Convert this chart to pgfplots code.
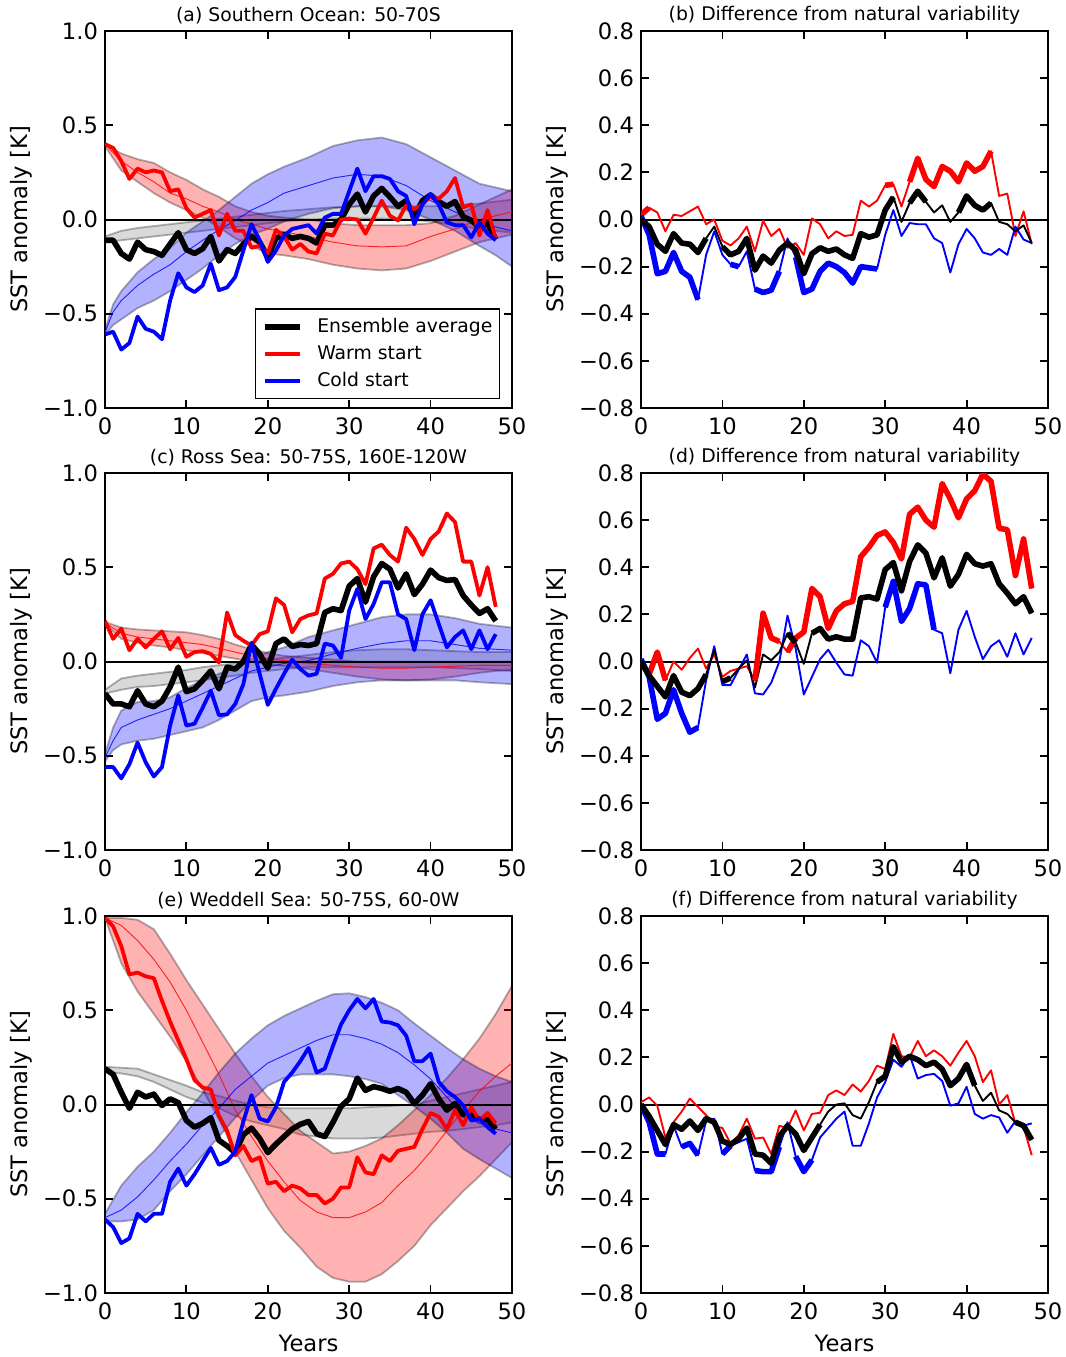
\documentclass[border=0pt]{standalone}
\usepackage{fontspec}
\setmainfont{DejaVu Sans}
\usepackage{pgfplots}
\usepackage{pgfplotstable}
\pgfplotsset{compat=1.18}

% ---------------- line data (x, ensemble average k, warm start r, cold start b)
\pgfplotstableread{
x k r b
0 -0.11 0.40 -0.61
1 -0.11 0.38 -0.595
2 -0.18 0.31 -0.69
3 -0.21 0.215 -0.655
4 -0.12 0.27 -0.515
5 -0.16 0.25 -0.58
6 -0.17 0.26 -0.595
7 -0.19 0.25 -0.635
8 -0.13 0.15 -0.43
9 -0.07 0.16 -0.285
10 -0.16 0.06 -0.36
11 -0.18 0.01 -0.385
12 -0.155 0.03 -0.35
13 -0.09 0.05 -0.235
14 -0.22 -0.085 -0.375
15 -0.16 0.03 -0.36
16 -0.18 -0.06 -0.305
17 -0.13 -0.06 -0.165
18 -0.09 -0.15 -0.025
19 -0.12 -0.14 -0.11
20 -0.20 -0.18 -0.225
21 -0.10 -0.055 -0.165
22 -0.08 -0.09 -0.085
23 -0.10 -0.16 -0.05
24 -0.09 -0.13 -0.04
25 -0.10 -0.17 -0.03
26 -0.125 -0.18 -0.075
27 -0.03 -0.075 0.01
28 -0.03 -0.085 0.03
29 0.0 0.0 0.03
30 0.08 0.005 0.15
31 0.135 0.0 0.27
32 0.04 -0.075 0.15
33 0.125 0.01 0.23
34 0.165 0.10 0.23
35 0.12 0.02 0.215
36 0.07 -0.005 0.15
37 0.10 0.075 0.125
38 0.015 0.055 -0.025
39 0.10 0.08 0.08
40 0.13 0.125 0.135
41 0.095 0.11 0.08
42 0.07 0.15 -0.015
43 0.095 0.22 -0.03
44 0.015 0.065 -0.03
45 -0.005 0.08 -0.095
46 -0.04 -0.085 -0.015
47 -0.02 0.05 -0.075
48 -0.105 -0.10 -0.11
}\dataA

\pgfplotstableread{
x k r b
0 0.0 0.02 0.015
1 -0.03 0.05 -0.065
2 -0.105 0.03 -0.23
3 -0.135 -0.05 -0.22
4 -0.06 0.02 -0.14
5 -0.10 0.015 -0.22
6 -0.105 0.035 -0.245
7 -0.14 0.055 -0.34
8 -0.08 -0.02 -0.15
9 -0.03 0.0 -0.05
10 -0.115 -0.09 -0.15
11 -0.15 -0.11 -0.19
12 -0.135 -0.08 -0.20
13 -0.08 -0.03 -0.135
14 -0.215 -0.135 -0.295
15 -0.155 -0.005 -0.31
16 -0.185 -0.07 -0.30
17 -0.13 -0.04 -0.22
18 -0.10 -0.12 -0.08
19 -0.13 -0.10 -0.16
20 -0.23 -0.15 -0.31
21 -0.145 0.005 -0.295
22 -0.12 -0.02 -0.22
23 -0.135 -0.08 -0.185
24 -0.125 -0.05 -0.20
25 -0.15 -0.07 -0.225
26 -0.165 -0.065 -0.27
27 -0.06 0.08 -0.20
28 -0.075 0.055 -0.205
29 -0.065 0.08 -0.21
30 0.04 0.145 -0.065
31 0.095 0.15 0.04
32 -0.01 0.055 -0.07
33 0.07 0.16 -0.015
34 0.12 0.26 -0.02
35 0.075 0.17 -0.02
36 0.03 0.14 -0.08
37 0.06 0.225 -0.10
38 -0.01 0.205 -0.225
39 0.03 0.16 -0.105
40 0.10 0.24 -0.04
41 0.06 0.205 -0.08
42 0.04 0.225 -0.14
43 0.07 0.29 -0.15
44 -0.01 0.10 -0.125
45 -0.02 0.11 -0.15
46 -0.05 -0.07 -0.03
47 -0.025 0.035 -0.085
48 -0.10 -0.105 -0.10
}\dataB

\pgfplotstableread{
x k r b
0 -0.17 0.215 -0.56
1 -0.225 0.12 -0.56
2 -0.225 0.175 -0.62
3 -0.24 0.06 -0.545
4 -0.155 0.12 -0.43
5 -0.225 0.075 -0.535
6 -0.24 0.12 -0.61
7 -0.21 0.16 -0.56
8 -0.135 0.065 -0.34
9 -0.03 0.125 -0.18
10 -0.16 0.025 -0.34
11 -0.145 0.05 -0.33
12 -0.10 0.055 -0.245
13 -0.05 0.04 -0.155
14 -0.145 -0.005 -0.285
15 -0.03 0.26 -0.28
16 -0.04 0.14 -0.225
17 0.0 0.11 -0.12
18 0.09 0.085 0.10
19 0.04 0.145 -0.065
20 -0.035 0.16 -0.23
21 0.095 0.335 -0.145
22 0.12 0.30 -0.065
23 0.08 0.155 0.01
24 0.09 0.225 -0.04
25 0.085 0.245 -0.075
26 0.095 0.255 -0.065
27 0.26 0.44 0.095
28 0.28 0.465 0.085
29 0.27 0.52 0.02
30 0.40 0.53 0.27
31 0.44 0.49 0.385
32 0.315 0.41 0.225
33 0.45 0.60 0.305
34 0.52 0.62 0.42
35 0.49 0.565 0.42
36 0.39 0.53 0.25
37 0.465 0.71 0.225
38 0.355 0.65 0.06
39 0.41 0.565 0.25
40 0.485 0.65 0.325
41 0.445 0.69 0.20
42 0.43 0.785 0.075
43 0.435 0.74 0.13
44 0.35 0.53 0.165
45 0.30 0.53 0.065
46 0.255 0.35 0.165
47 0.28 0.50 0.065
48 0.215 0.29 0.145
}\dataC

\pgfplotstableread{
x k r b
0 0.0 -0.005 0.01
1 -0.06 -0.055 -0.065
2 -0.105 0.04 -0.245
3 -0.15 -0.08 -0.22
4 -0.06 0.0 -0.12
5 -0.13 -0.035 -0.22
6 -0.145 0.015 -0.30
7 -0.115 0.055 -0.28
8 -0.055 -0.03 -0.08
9 0.05 0.03 0.065
10 -0.085 -0.065 -0.10
11 -0.07 -0.04 -0.10
12 -0.03 -0.03 -0.035
13 0.005 -0.02 0.03
14 -0.11 -0.08 -0.135
15 0.03 0.205 -0.14
16 0.005 0.10 -0.09
17 0.04 0.085 0.0
18 0.12 0.04 0.195
19 0.08 0.10 0.055
20 -0.01 0.125 -0.14
21 0.12 0.31 -0.065
22 0.14 0.275 0.01
23 0.095 0.14 0.05
24 0.105 0.215 -0.005
25 0.095 0.245 -0.055
26 0.095 0.255 -0.06
27 0.27 0.445 0.09
28 0.275 0.485 0.065
29 0.265 0.535 -0.005
30 0.39 0.55 0.23
31 0.42 0.505 0.34
32 0.30 0.435 0.17
33 0.425 0.625 0.225
34 0.495 0.655 0.33
35 0.46 0.60 0.325
36 0.355 0.57 0.135
37 0.44 0.755 0.12
38 0.32 0.69 -0.05
39 0.37 0.61 0.135
40 0.455 0.69 0.215
41 0.415 0.725 0.105
42 0.405 0.795 0.01
43 0.415 0.765 0.065
44 0.33 0.565 0.09
45 0.29 0.56 0.02
46 0.245 0.365 0.12
47 0.275 0.52 0.03
48 0.205 0.31 0.10
}\dataD

\pgfplotstableread{
x k r b
0 0.19 0.99 -0.61
1 0.16 0.945 -0.65
2 0.065 0.84 -0.735
3 -0.02 0.69 -0.71
4 0.065 0.70 -0.58
5 0.04 0.68 -0.62
6 0.055 0.67 -0.58
7 -0.005 0.55 -0.58
8 0.03 0.44 -0.41
9 0.01 0.34 -0.34
10 -0.085 0.24 -0.43
11 -0.12 0.13 -0.37
12 -0.10 0.09 -0.30
13 -0.07 0.08 -0.23
14 -0.19 -0.06 -0.32
15 -0.22 -0.14 -0.30
16 -0.255 -0.27 -0.25
17 -0.16 -0.22 -0.09
18 -0.125 -0.30 0.05
19 -0.18 -0.28 -0.075
20 -0.255 -0.42 -0.09
21 -0.21 -0.41 -0.015
22 -0.17 -0.46 0.12
23 -0.13 -0.43 0.17
24 -0.105 -0.445 0.23
25 -0.09 -0.48 0.30
26 -0.155 -0.48 0.17
27 -0.17 -0.525 0.19
28 -0.095 -0.50 0.31
29 -0.01 -0.44 0.425
30 0.03 -0.44 0.50
31 0.14 -0.28 0.56
32 0.075 -0.36 0.51
33 0.095 -0.37 0.56
34 0.085 -0.27 0.44
35 0.07 -0.30 0.435
36 0.085 -0.245 0.42
37 0.065 -0.235 0.365
38 0.005 -0.225 0.23
39 0.05 -0.13 0.23
40 0.11 -0.045 0.27
41 0.03 -0.065 0.12
42 -0.03 -0.13 0.07
43 0.005 -0.03 0.04
44 -0.055 -0.11 -0.005
45 -0.05 -0.015 -0.085
46 -0.08 -0.085 -0.075
47 -0.08 -0.045 -0.12
48 -0.13 -0.10 -0.155
}\dataE

\pgfplotstableread{
x k r b
0 0.0 0.01 0.0
1 -0.05 0.03 -0.075
2 -0.11 -0.005 -0.21
3 -0.17 -0.14 -0.21
4 -0.085 -0.075 -0.09
5 -0.105 -0.03 -0.18
6 -0.07 0.025 -0.165
7 -0.11 -0.01 -0.215
8 -0.06 -0.045 -0.07
9 -0.075 -0.09 -0.06
10 -0.155 -0.10 -0.21
11 -0.17 -0.165 -0.175
12 -0.145 -0.13 -0.16
13 -0.10 -0.06 -0.145
14 -0.21 -0.145 -0.28
15 -0.215 -0.14 -0.285
16 -0.25 -0.21 -0.285
17 -0.135 -0.09 -0.18
18 -0.09 -0.10 -0.075
19 -0.125 -0.025 -0.22
20 -0.195 -0.11 -0.285
21 -0.14 -0.04 -0.235
22 -0.085 -0.035 -0.14
23 -0.03 0.04 -0.10
24 0.0 0.06 -0.06
25 0.005 0.04 -0.03
26 -0.045 0.085 -0.175
27 -0.06 0.055 -0.175
28 0.01 0.10 -0.08
29 0.095 0.165 0.03
30 0.12 0.15 0.095
31 0.245 0.30 0.19
32 0.18 0.205 0.16
33 0.205 0.20 0.21
34 0.19 0.27 0.11
35 0.165 0.205 0.125
36 0.18 0.23 0.13
37 0.15 0.205 0.10
38 0.08 0.165 -0.005
39 0.11 0.22 0.005
40 0.17 0.27 0.075
41 0.08 0.205 -0.04
42 0.015 0.095 -0.06
43 0.05 0.145 -0.045
44 -0.025 0.0 -0.055
45 -0.04 0.04 -0.12
46 -0.075 -0.08 -0.07
47 -0.09 -0.095 -0.09
48 -0.15 -0.215 -0.08
}\dataF

\pgfplotsset{
  panel/.style={
    scale only axis, width=203.5pt, height=188.5pt,
    anchor=north west,
    xmin=0, xmax=50,
    xtick={0,10,20,30,40,50}, xticklabels={0,10,20,30,40,50},
    tick align=inside, major tick length=3.8pt,
    every tick/.style={black, line width=0.9pt},
    axis line style={black, line width=0.9pt},
    tick label style={font=\fontsize{11.3}{13}\selectfont},
    xticklabel style={yshift=-1.5pt},
    label style={font=\fontsize{11.3}{13}\selectfont},
    every axis title shift=0pt,
    title style={font=\fontsize{9.4}{11}\selectfont, at={(axis description cs:0.5,1.042)}, anchor=center},
    ylabel={SST anomaly [K]},
    ylabel style={at={(axis description cs:-0.2064,0.5)}, anchor=center},
  },
  leftp/.style={panel, ymin=-1, ymax=1,
    ytick={-1,-0.5,0,0.5,1}, yticklabels={−1.0,−0.5,0.0,0.5,1.0}},
  rightp/.style={panel, ymin=-0.8, ymax=0.8,
    ytick={-0.8,-0.6,-0.4,-0.2,0,0.2,0.4,0.6,0.8},
    yticklabels={−0.8,−0.6,−0.4,−0.2,0.0,0.2,0.4,0.6,0.8}},
  band/.style={fill=#1, fill opacity=0.3, draw=black, draw opacity=0.3, line width=0.9pt, forget plot},
  bmid/.style={#1, line width=0.47pt, opacity=0.8, forget plot},
}

\newcommand{\zeroline}{\addplot[black, line width=1pt, forget plot] coordinates {(0,0) (50,0)};}
\newcommand{\seg}[5]{\addplot[#1, line width=2.8pt, line join=round, restrict x to domain=#3:#4, forget plot] table[x=x,y=#5]{#2};}
\newcommand{\thinl}[3]{\addplot[#1, line width=0.94pt, line join=round, forget plot] table[x=x,y=#3]{#2};}
\newcommand{\mainl}[4]{\addplot[#1, line width=#4, line join=round, forget plot] table[x=x,y=#3]{#2};}

\begin{document}
\begin{tikzpicture}
\path[use as bounding box] (-52.5pt,15.5pt) rectangle (480.5pt,-663pt);

% (a)
\begin{axis}[leftp, at={(0pt,0pt)}, title={(a) Southern Ocean: 50-70S},
  legend cell align=left,
  legend image code/.code={\path (-1.5pt,0pt); \draw[#1] (0pt,0pt) -- (17.5pt,0pt);},
  legend style={at={(0.9705,0.024)}, anchor=south east,
    font=\fontsize{9.4}{11}\selectfont, draw=black, line width=0.6pt,
    inner xsep=2pt, inner ysep=2.5pt, row sep=1pt, column sep=5.5pt,
    nodes={inner xsep=1.5pt}}]
\addlegendimage{black, line width=2.8pt}\addlegendentry{Ensemble average}
\addlegendimage{red, line width=1.9pt}\addlegendentry{Warm start}
\addlegendimage{blue, line width=1.9pt}\addlegendentry{Cold start}
\addplot[band=gray] coordinates {(0,-0.09)(2,-0.06)(4,-0.045)(6,-0.035)(8,-0.025)(10,-0.015)(12,-0.005)(14,0.005)(16,0.015)(18,0.025)(20,0.035)(22,0.045)(25,0.055)(28,0.065)(31,0.07)(34,0.07)(37,0.07)(40,0.07)(43,0.075)(46,0.085)(48,0.095)(50,0.105)
 (50,-0.07)(48,-0.06)(46,-0.05)(43,-0.03)(40,-0.01)(37,0)(34,0.005)(31,0.005)(28,0.005)(25,0)(22,-0.01)(20,-0.02)(18,-0.03)(16,-0.04)(14,-0.05)(12,-0.06)(10,-0.07)(8,-0.08)(6,-0.09)(4,-0.1)(2,-0.11)(0,-0.12)};
\addplot[band=red] coordinates {(0,0.40)(2,0.35)(4,0.32)(6,0.30)(8,0.25)(10,0.21)(12,0.16)(14,0.12)(16,0.07)(18,0.04)(20,0.02)(22,0.01)(25,0)(28,-0.02)(31,-0.03)(34,-0.03)(37,-0.03)(40,-0.02)(43,0.02)(46,0.08)(48,0.12)(50,0.16)
 (50,-0.08)(48,-0.10)(46,-0.12)(43,-0.17)(40,-0.22)(37,-0.26)(34,-0.27)(31,-0.26)(28,-0.24)(25,-0.21)(22,-0.19)(20,-0.18)(18,-0.14)(16,-0.10)(14,-0.04)(12,0.01)(10,0.05)(8,0.09)(6,0.14)(4,0.20)(2,0.26)(0,0.39)};
\addplot[band=blue] coordinates {(0,-0.585)(1,-0.45)(2,-0.38)(4,-0.28)(6,-0.21)(8,-0.15)(10,-0.07)(12,-0.01)(14,0.05)(16,0.12)(18,0.19)(20,0.24)(22,0.28)(25,0.33)(28,0.39)(31,0.42)(34,0.435)(37,0.40)(40,0.33)(43,0.26)(46,0.19)(48,0.17)(50,0.15)
 (50,-0.25)(48,-0.19)(46,-0.14)(43,-0.06)(40,0)(37,0.05)(34,0.07)(31,0.07)(28,0.06)(25,0.03)(22,-0.01)(20,-0.05)(18,-0.08)(16,-0.13)(14,-0.19)(12,-0.26)(10,-0.32)(8,-0.38)(6,-0.43)(4,-0.47)(2,-0.53)(1,-0.56)(0,-0.61)};
\addplot[bmid=red] coordinates {(0,0.40)(2,0.31)(4,0.25)(6,0.20)(8,0.14)(10,0.11)(12,0.07)(14,0.04)(16,0)(18,-0.025)(20,-0.05)(22,-0.065)(25,-0.09)(28,-0.12)(31,-0.14)(34,-0.145)(37,-0.14)(40,-0.09)(43,-0.05)(46,0)(48,0.02)(50,0.04)};
\addplot[bmid=blue] coordinates {(0,-0.60)(1,-0.49)(2,-0.43)(4,-0.35)(6,-0.29)(8,-0.24)(10,-0.17)(12,-0.11)(14,-0.055)(16,-0.005)(18,0.05)(20,0.09)(22,0.14)(25,0.18)(28,0.22)(31,0.24)(34,0.23)(37,0.18)(40,0.10)(43,0.04)(46,-0.01)(48,-0.04)(50,-0.06)};
\zeroline
\mainl{black}{\dataA}{k}{2.8pt}
\mainl{red}{\dataA}{r}{1.9pt}
\mainl{blue}{\dataA}{b}{1.9pt}
\end{axis}

% (b)
\begin{axis}[rightp, at={(268pt,0pt)}, title={(b) Difference from natural variability}]
\zeroline
\thinl{red}{\dataB}{r}
\thinl{blue}{\dataB}{b}
\thinl{black}{\dataB}{k}
\seg{red}{\dataB}{0}{1}{r}
\seg{red}{\dataB}{30}{31}{r}
\seg{red}{\dataB}{33}{43}{r}
\seg{blue}{\dataB}{0}{7}{b}
\seg{blue}{\dataB}{11}{12}{b}
\seg{blue}{\dataB}{14}{17}{b}
\seg{blue}{\dataB}{19}{29}{b}
\seg{black}{\dataB}{0}{8}{k}
\seg{black}{\dataB}{10}{31}{k}
\seg{black}{\dataB}{33}{35}{k}
\seg{black}{\dataB}{39}{43}{k}
\end{axis}

% (c)
\begin{axis}[leftp, at={(0pt,-221pt)}, title={(c) Ross Sea: 50-75S, 160E-120W}]
\addplot[band=gray] coordinates {(0,-0.15)(2,-0.09)(4,-0.075)(6,-0.065)(8,-0.055)(10,-0.045)(12,-0.03)(14,-0.02)(16,-0.01)(18,0)(20,0.01)(22,0.02)(25,0.035)(28,0.05)(31,0.06)(34,0.065)(37,0.065)(40,0.06)(43,0.055)(46,0.05)(48,0.05)(50,0.05)
 (50,-0.05)(48,-0.045)(46,-0.04)(43,-0.035)(40,-0.03)(37,-0.03)(34,-0.03)(31,-0.03)(28,-0.03)(25,-0.03)(22,-0.04)(20,-0.05)(18,-0.06)(16,-0.075)(14,-0.085)(12,-0.10)(10,-0.11)(8,-0.12)(6,-0.13)(4,-0.135)(2,-0.15)(0,-0.17)};
\addplot[band=red] coordinates {(0,0.21)(2,0.18)(4,0.17)(6,0.165)(8,0.16)(10,0.155)(12,0.14)(14,0.12)(16,0.09)(18,0.065)(20,0.045)(22,0.03)(25,0.02)(28,0.01)(31,0)(34,0)(37,0)(40,0)(43,0)(46,0)(48,0)(50,0)
 (50,-0.045)(48,-0.05)(46,-0.06)(43,-0.08)(40,-0.095)(37,-0.10)(34,-0.095)(31,-0.08)(28,-0.06)(25,-0.04)(22,-0.025)(20,-0.015)(18,0)(16,0.015)(14,0.03)(12,0.045)(10,0.06)(8,0.075)(6,0.085)(4,0.10)(2,0.12)(0,0.20)};
\addplot[band=blue] coordinates {(0,-0.49)(1,-0.35)(2,-0.26)(4,-0.215)(6,-0.21)(8,-0.19)(10,-0.14)(12,-0.10)(14,-0.065)(16,-0.03)(18,0.015)(20,0.05)(22,0.075)(25,0.13)(28,0.165)(31,0.20)(34,0.235)(37,0.25)(40,0.25)(43,0.23)(46,0.20)(48,0.19)(50,0.18)
 (50,-0.12)(48,-0.115)(46,-0.11)(43,-0.10)(40,-0.10)(37,-0.10)(34,-0.10)(31,-0.11)(28,-0.13)(25,-0.16)(22,-0.18)(20,-0.19)(18,-0.21)(16,-0.26)(14,-0.31)(12,-0.35)(10,-0.37)(8,-0.39)(6,-0.41)(4,-0.42)(2,-0.44)(1,-0.47)(0,-0.53)};
\addplot[bmid=red] coordinates {(0,0.205)(2,0.15)(4,0.13)(6,0.12)(8,0.11)(10,0.10)(12,0.09)(14,0.07)(16,0.05)(18,0.03)(20,0.015)(22,0.005)(25,-0.01)(28,-0.02)(31,-0.03)(34,-0.035)(37,-0.035)(40,-0.03)(43,-0.025)(46,-0.02)(48,-0.02)(50,-0.02)};
\addplot[bmid=blue] coordinates {(0,-0.51)(1,-0.42)(2,-0.35)(4,-0.31)(6,-0.28)(8,-0.25)(10,-0.21)(12,-0.17)(14,-0.13)(16,-0.09)(18,-0.05)(20,-0.03)(22,-0.01)(25,0.005)(28,0.04)(31,0.07)(34,0.095)(37,0.11)(40,0.11)(43,0.09)(46,0.07)(48,0.065)(50,0.06)};
\zeroline
\mainl{black}{\dataC}{k}{2.8pt}
\mainl{red}{\dataC}{r}{1.9pt}
\mainl{blue}{\dataC}{b}{1.9pt}
\end{axis}

% (d)
\begin{axis}[rightp, at={(268pt,-221pt)}, title={(d) Difference from natural variability}]
\zeroline
\thinl{red}{\dataD}{r}
\thinl{blue}{\dataD}{b}
\thinl{black}{\dataD}{k}
\seg{red}{\dataD}{0}{3}{r}
\seg{red}{\dataD}{14}{17}{r}
\seg{red}{\dataD}{18}{48}{r}
\seg{blue}{\dataD}{0}{7}{b}
\seg{blue}{\dataD}{30}{36}{b}
\seg{black}{\dataD}{0}{8}{k}
\seg{black}{\dataD}{10}{11}{k}
\seg{black}{\dataD}{18}{19}{k}
\seg{black}{\dataD}{21}{48}{k}
\end{axis}

% (e)
\begin{axis}[leftp, at={(0pt,-442.5pt)}, title={(e) Weddell Sea: 50-75S, 60-0W},
  xlabel={Years}, xlabel style={at={(axis description cs:0.5,-0.1326)}, anchor=center}]
\addplot[band=gray] coordinates {(0,0.20)(2,0.195)(4,0.19)(6,0.16)(8,0.13)(10,0.10)(12,0.065)(14,0.045)(16,0.02)(18,0)(20,-0.015)(22,-0.02)(24,-0.02)(26,-0.02)(28,-0.02)(30,-0.02)(32,-0.015)(34,-0.01)(36,-0.005)(38,0)(40,0.02)(42,0.04)(44,0.06)(46,0.08)(48,0.10)(50,0.12)
 (50,-0.095)(48,-0.11)(46,-0.12)(44,-0.13)(42,-0.14)(40,-0.145)(38,-0.155)(36,-0.165)(34,-0.175)(32,-0.18)(30,-0.18)(28,-0.18)(26,-0.17)(24,-0.16)(22,-0.13)(20,-0.11)(18,-0.09)(16,-0.06)(14,-0.02)(12,0.01)(10,0.04)(8,0.08)(6,0.12)(4,0.15)(2,0.165)(0,0.17)};
\addplot[band=red] coordinates {(0,0.99)(2,0.99)(4,0.98)(6,0.93)(8,0.80)(10,0.66)(12,0.53)(14,0.40)(16,0.27)(18,0.15)(20,0.04)(22,-0.05)(24,-0.14)(26,-0.20)(28,-0.26)(30,-0.25)(32,-0.22)(34,-0.18)(36,-0.11)(38,-0.03)(40,0.05)(42,0.14)(44,0.24)(46,0.35)(48,0.48)(50,0.63)
 (50,-0.20)(48,-0.29)(46,-0.38)(44,-0.46)(42,-0.55)(40,-0.64)(38,-0.75)(36,-0.83)(34,-0.90)(32,-0.94)(30,-0.94)(28,-0.92)(26,-0.86)(24,-0.76)(22,-0.67)(20,-0.55)(18,-0.40)(16,-0.25)(14,-0.08)(12,0.08)(10,0.23)(8,0.36)(6,0.48)(4,0.60)(2,0.75)(0,0.99)};
\addplot[band=blue] coordinates {(0,-0.58)(2,-0.43)(4,-0.33)(6,-0.25)(8,-0.15)(10,-0.04)(12,0.06)(14,0.17)(16,0.27)(18,0.35)(20,0.42)(22,0.47)(24,0.51)(26,0.55)(28,0.585)(30,0.59)(32,0.57)(34,0.54)(36,0.50)(38,0.43)(40,0.365)(42,0.30)(44,0.24)(46,0.19)(48,0.15)(50,0.12)
 (50,-0.39)(48,-0.34)(46,-0.29)(44,-0.235)(42,-0.15)(40,-0.075)(38,-0.01)(36,0.05)(34,0.11)(32,0.135)(30,0.15)(28,0.16)(26,0.16)(24,0.16)(22,0.14)(20,0.10)(18,0.02)(16,-0.07)(14,-0.17)(12,-0.27)(10,-0.37)(8,-0.46)(6,-0.56)(4,-0.61)(2,-0.62)(0,-0.62)};
\addplot[bmid=red] coordinates {(0,0.99)(2,0.95)(4,0.87)(6,0.77)(8,0.65)(10,0.50)(12,0.33)(14,0.16)(16,-0.03)(18,-0.17)(20,-0.30)(22,-0.41)(24,-0.51)(26,-0.57)(28,-0.60)(30,-0.60)(32,-0.57)(34,-0.52)(36,-0.43)(38,-0.35)(40,-0.25)(42,-0.14)(44,-0.03)(46,0.07)(48,0.15)(50,0.22)};
\addplot[bmid=blue] coordinates {(0,-0.60)(2,-0.56)(4,-0.49)(6,-0.40)(8,-0.30)(10,-0.21)(12,-0.11)(14,-0.02)(16,0.08)(18,0.15)(20,0.22)(22,0.26)(24,0.30)(26,0.34)(28,0.37)(30,0.37)(32,0.35)(34,0.32)(36,0.275)(38,0.21)(40,0.135)(42,0.04)(44,-0.06)(46,-0.10)(48,-0.13)(50,-0.15)};
\zeroline
\mainl{black}{\dataE}{k}{2.8pt}
\mainl{red}{\dataE}{r}{1.9pt}
\mainl{blue}{\dataE}{b}{1.9pt}
\end{axis}

% (f)
\begin{axis}[rightp, at={(268pt,-442.5pt)}, title={(f) Difference from natural variability},
  xlabel={Years}, xlabel style={at={(axis description cs:0.5,-0.1326)}, anchor=center}]
\zeroline
\thinl{red}{\dataF}{r}
\thinl{blue}{\dataF}{b}
\thinl{black}{\dataF}{k}
\seg{blue}{\dataF}{0}{3}{b}
\seg{blue}{\dataF}{5}{7}{b}
\seg{blue}{\dataF}{10}{11}{b}
\seg{blue}{\dataF}{14}{17}{b}
\seg{blue}{\dataF}{19}{21}{b}
\seg{black}{\dataF}{0}{22}{k}
\seg{black}{\dataF}{29}{41}{k}
\seg{black}{\dataF}{46}{48}{k}
\end{axis}
\end{tikzpicture}
\end{document}
